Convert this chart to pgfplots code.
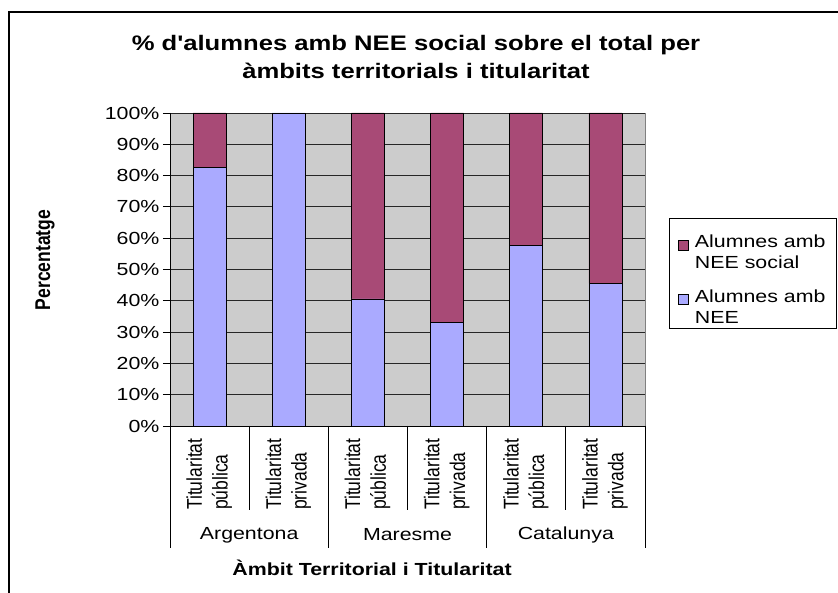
\documentclass[border=0pt]{standalone}
\usepackage{fontspec}
\setmainfont{Liberation Sans}
\usepackage{graphicx}
\usepackage{pgfplots}
\pgfplotsset{compat=1.18}
\pgfplotsset{sqlegend/.style={legend image code/.code={\draw[##1] (0pt,-4pt) rectangle (10pt,6pt);}}}
\definecolor{bggray}{RGB}{204,204,204}
\definecolor{cblue}{RGB}{170,170,255}
\definecolor{cmaroon}{RGB}{168,74,118}
\newcommand\sx[1]{\scalebox{1.22}[1]{#1}}
\newcommand\sy[1]{\scalebox{1}[1.22]{#1}}
\newcommand\fs{\fontsize{17.5}{21}\selectfont}
\begin{document}
\begin{tikzpicture}[x=1pt,y=1pt]
\path[use as bounding box] (-170,-167) rectangle (668,426);
\draw[line width=1.5pt] (-161,-175) -- (-161,414) -- (680,414);
\node[font=\bfseries\fontsize{21}{28}\selectfont] at (246,367) {\begin{tabular}{@{}c@{}}\sx{\% d\textquotesingle alumnes amb NEE social sobre el total per}\\\sx{àmbits territorials i titularitat}\end{tabular}};
\node[font=\bfseries\fs, rotate=90] at (-125,166) {\sy{Percentatge}};
\node[font=\bfseries\fs] at (202,-142) {\sx{Àmbit Territorial i Titularitat}};
\begin{axis}[at={(0,0)}, anchor=south west, width=475pt, height=313pt, scale only axis, clip=false,
  ybar stacked, bar width=33pt,
  xmin=-0.5, xmax=5.5, ymin=0, ymax=100,
  xtick=\empty,
  ytick={0,10,20,30,40,50,60,70,80,90,100},
  yticklabels={\sx{0\%},\sx{10\%},\sx{20\%},\sx{30\%},\sx{40\%},\sx{50\%},\sx{60\%},\sx{70\%},\sx{80\%},\sx{90\%},\sx{100\%}},
  yticklabel style={font=\fs, anchor=east},
  tick align=outside, major tick length=7pt, ytick pos=left,
  ytick style={black, line width=0.8pt},
  ymajorgrids, major grid style={black!85, line width=0.8pt},
  axis background/.style={fill=bggray},
  axis line style={draw=none},
  reverse legend,
  legend style={at={(1.0505,0.664)}, anchor=north west, draw=black, line width=0.8pt, font=\fs, row sep=24pt, column sep=4pt, inner xsep=9pt, inner ysep=12pt},
  legend cell align=left,
]
\addplot[fill=cblue, draw=black, line width=0.6pt, sqlegend] coordinates {(0,82.6) (1,100) (2,40.6) (3,33.1) (4,57.8) (5,45.6)};
\addlegendentry{\begin{tabular}{@{}l@{}}\sx{Alumnes amb}\\\sx{NEE}\end{tabular}}
\addplot[fill=cmaroon, draw=black, line width=0.6pt, sqlegend] coordinates {(0,17.4) (1,0) (2,59.4) (3,66.9) (4,42.2) (5,54.4)};
\addlegendentry{\begin{tabular}{@{}l@{}}\sx{Alumnes amb}\\\sx{NEE social}\end{tabular}}
\draw[gray, line width=0.8pt] (rel axis cs:1,0) -- (rel axis cs:1,1);
\draw[black, line width=0.8pt] (rel axis cs:0,1) -- (rel axis cs:0,0) -- (rel axis cs:1,0);
\end{axis}
\foreach \k/\len in {0/122,1/84,2/122,3/84,4/122,5/84,6/122}
  \draw[line width=0.8pt] (\k*79.1667,0) -- (\k*79.1667,-\len);
\foreach \i in {0,...,5}
  \node[rotate=90, anchor=west, font=\fontsize{17.5}{25.6}\selectfont, inner sep=0pt] at ({(\i+0.5)*79.1667},-84) {\begin{tabular}{@{}l@{}}\sy{Titularitat}\\\sy{\ifodd\i privada\else pública\fi}\end{tabular}};
\node[font=\fs] at (79.1667,-109) {\sx{Argentona}};
\node[font=\fs] at (237.5,-109) {\sx{Maresme}};
\node[font=\fs] at (395.833,-109) {\sx{Catalunya}};
\end{tikzpicture}
\end{document}
